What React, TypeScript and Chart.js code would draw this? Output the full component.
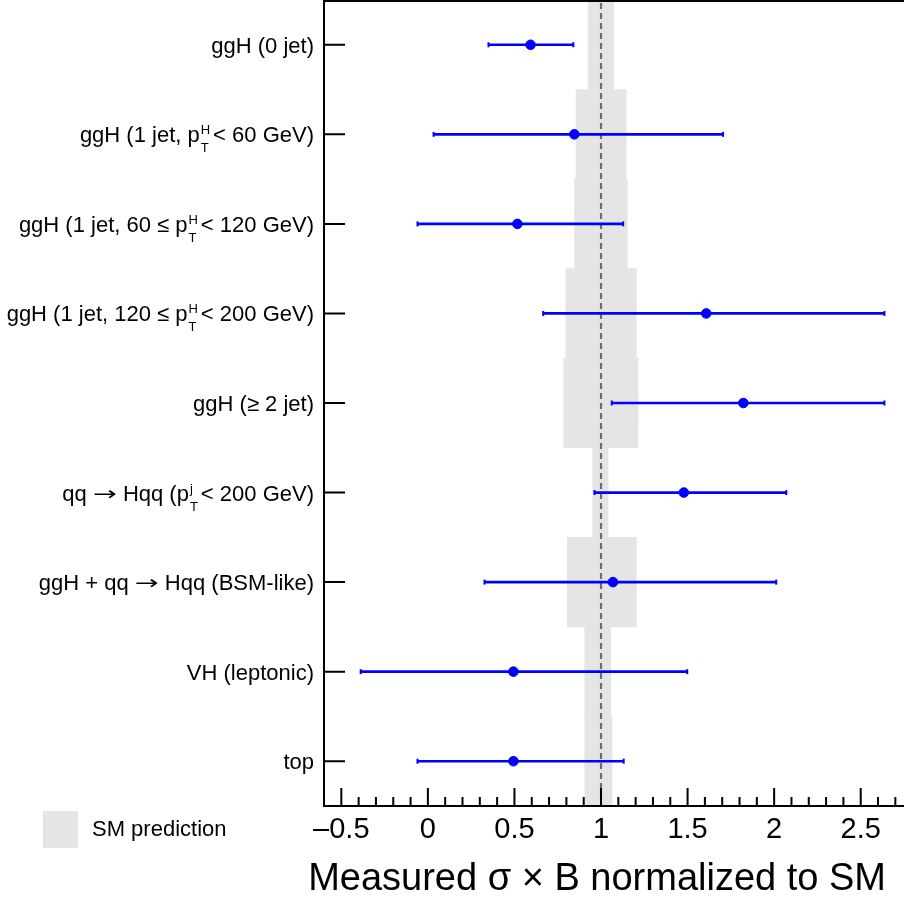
import React, { useEffect, useRef } from "react";
import { Chart, registerables } from "chart.js";

Chart.register(...registerables);

// ---------- data ----------
const categories = [
  "ggH (0 jet)",
  "ggH (1 jet, p_{T}^{H} < 60 GeV)",
  "ggH (1 jet, 60 ≤ p_{T}^{H} < 120 GeV)",
  "ggH (1 jet, 120 ≤ p_{T}^{H} < 200 GeV)",
  "ggH (≥ 2 jet)",
  "qq → Hqq (p_{T}^{j} < 200 GeV)",
  "ggH + qq → Hqq (BSM-like)",
  "VH (leptonic)",
  "top",
];
const measured = [0.593, 0.846, 0.517, 1.608, 1.822, 1.478, 1.069, 0.494, 0.494];
const errLow = [0.35, 0.033, -0.06, 0.666, 1.062, 0.962, 0.327, -0.388, -0.06];
const errHigh = [0.84, 1.705, 1.128, 2.637, 2.637, 2.07, 2.012, 1.498, 1.131];
const smLow = [0.926, 0.856, 0.847, 0.797, 0.785, 0.952, 0.806, 0.906, 0.906];
const smHigh = [1.073, 1.145, 1.152, 1.204, 1.214, 1.041, 1.204, 1.056, 1.064];
const xTickValues = [-0.5, 0, 0.5, 1, 1.5, 2, 2.5];
const xTitle = "Measured σ × B normalized to SM";
const legendLabel = "SM prediction";

const FONT = "'Liberation Sans', Arial, Helvetica, sans-serif";
const ARROW_FONT = "'DejaVu Sans', sans-serif";
const BLUE = "#0000ff";
const GREY = "#e5e5e5";

const plainLabels = categories.map((s) => s.replace(/_\{(.*?)\}\^\{(.*?)\}/g, "$2$1"));

function fmt(v: number): string {
  const r = Math.round(v * 10) / 10;
  return r < 0 ? "–" + String(Math.abs(r)) : String(r);
}

type Run = { kind: "text" | "arrow" | "stack"; text?: string; sub?: string; sup?: string };

function tokenize(s: string): Run[] {
  const runs: Run[] = [];
  const re = /_\{(.*?)\}\^\{(.*?)\}\s*/g;
  let last = 0;
  let m: RegExpExecArray | null;
  const pushText = (t: string) => {
    const parts = t.split("→");
    parts.forEach((p, i) => {
      if (i > 0) runs.push({ kind: "arrow", text: "→" });
      if (p) runs.push({ kind: "text", text: p });
    });
  };
  while ((m = re.exec(s))) {
    pushText(s.slice(last, m.index));
    runs.push({ kind: "stack", sub: m[1], sup: m[2] });
    last = re.lastIndex;
  }
  pushText(s.slice(last));
  return runs;
}

const ARROW_STRETCH = 1.5;

function drawRich(ctx: CanvasRenderingContext2D, s: string, xRight: number, yc: number) {
  const main = `22px ${FONT}`;
  const small = `13px ${FONT}`;
  const arrow = `19px ${ARROW_FONT}`;
  const base = yc + 8;
  ctx.fillStyle = "#000";
  ctx.textBaseline = "alphabetic";
  ctx.textAlign = "left";
  const runs = tokenize(s);
  const widths = runs.map((r) => {
    if (r.kind === "text") {
      ctx.font = main;
      return ctx.measureText(r.text!).width;
    }
    if (r.kind === "arrow") {
      ctx.font = arrow;
      return ctx.measureText(r.text!).width * ARROW_STRETCH;
    }
    ctx.font = small;
    return Math.max(ctx.measureText(r.sub!).width, ctx.measureText(r.sup!).width) + 4;
  });
  let x = xRight - widths.reduce((a, b) => a + b, 0);
  runs.forEach((r, i) => {
    if (r.kind === "text") {
      ctx.font = main;
      ctx.fillText(r.text!, x, base);
    } else if (r.kind === "arrow") {
      ctx.save();
      ctx.font = arrow;
      ctx.translate(x, base - 1);
      ctx.scale(ARROW_STRETCH, 1);
      ctx.fillText(r.text!, 0, 0);
      ctx.restore();
    } else {
      ctx.font = small;
      ctx.fillText(r.sup!, x + 1, base - 8);
      ctx.fillText(r.sub!, x + 1, base + 10);
    }
    x += widths[i];
  });
}

const decorPlugin = {
  id: "decor",
  afterDatasetDraw(chart: any, args: any) {
    if (args.index !== 0) return;
    const { ctx, chartArea } = chart;
    const xs = chart.scales.x;
    const px = xs.getPixelForValue(1);
    ctx.save();
    ctx.strokeStyle = "#6e6e6e";
    ctx.lineWidth = 2.2;
    ctx.setLineDash([6, 4]);
    ctx.beginPath();
    ctx.moveTo(px, chartArea.top + 3);
    ctx.lineTo(px, chartArea.bottom);
    ctx.stroke();
    ctx.restore();
  },
  afterDraw(chart: any) {
    const { ctx, chartArea } = chart;
    const xs = chart.scales.x;
    const ys = chart.scales.y;
    ctx.save();
    // frame
    ctx.strokeStyle = "#000";
    ctx.lineWidth = 2;
    ctx.beginPath();
    ctx.moveTo(chartArea.left, chartArea.top + 1);
    ctx.lineTo(chartArea.right, chartArea.top + 1);
    ctx.moveTo(chartArea.left, chartArea.top);
    ctx.lineTo(chartArea.left, chartArea.bottom);
    ctx.moveTo(chartArea.left - 1, chartArea.bottom);
    ctx.lineTo(chartArea.right, chartArea.bottom);
    ctx.stroke();
    // x ticks (inward)
    ctx.beginPath();
    for (let k = -6; k <= 27; k++) {
      const v = k / 10;
      const px = xs.getPixelForValue(v);
      const len = k % 5 === 0 ? 18 : 9;
      ctx.moveTo(px, chartArea.bottom);
      ctx.lineTo(px, chartArea.bottom - len);
    }
    // y ticks (inward)
    for (let i = 0; i < categories.length; i++) {
      const py = ys.getPixelForValue(i);
      ctx.moveTo(chartArea.left, py);
      ctx.lineTo(chartArea.left + 21, py);
    }
    ctx.stroke();
    // y labels with sub/superscripts
    for (let i = 0; i < categories.length; i++) {
      drawRich(ctx, categories[i], chartArea.left - 10, ys.getPixelForValue(i));
    }
    // legend
    ctx.fillStyle = GREY;
    ctx.fillRect(43, chartArea.bottom + 5, 35, 37);
    ctx.fillStyle = "#000";
    ctx.font = `22px ${FONT}`;
    ctx.textAlign = "left";
    ctx.textBaseline = "middle";
    ctx.fillText(legendLabel, 92, chartArea.bottom + 24);
    // axis title
    ctx.font = `38px ${FONT}`;
    ctx.textAlign = "right";
    ctx.textBaseline = "alphabetic";
    ctx.fillText(xTitle, chartArea.right - 18, chartArea.bottom + 84);
    ctx.restore();
  },
};

export default function App() {
  const ref = useRef<HTMLCanvasElement | null>(null);
  useEffect(() => {
    document.body.style.margin = "0";
    const canvas = ref.current;
    if (!canvas) return;
    const idx = categories.map((_, i) => i);
    const chart = new Chart(canvas, {
      type: "bar",
      data: {
        labels: plainLabels,
        datasets: [
          {
            type: "bar",
            label: legendLabel,
            data: idx.map((i) => [smLow[i], smHigh[i]]) as any,
            backgroundColor: GREY,
            borderWidth: 0,
            barPercentage: 1,
            categoryPercentage: 1,
            grouped: false,
            order: 4,
          },
          {
            type: "bar",
            label: "uncertainty",
            data: idx.map((i) => [errLow[i], errHigh[i]]) as any,
            backgroundColor: BLUE,
            borderWidth: 0,
            barThickness: 2,
            grouped: false,
            order: 3,
          } as any,
          {
            type: "scatter",
            label: "caps",
            data: idx.flatMap((i) => [
              { x: errLow[i], y: plainLabels[i] },
              { x: errHigh[i], y: plainLabels[i] },
            ]) as any,
            pointStyle: "line",
            rotation: 90,
            pointRadius: 2.5,
            borderColor: BLUE,
            borderWidth: 2,
            order: 2,
          } as any,
          {
            type: "scatter",
            label: "measured",
            data: idx.map((i) => ({ x: measured[i], y: plainLabels[i] })) as any,
            pointRadius: 4.8,
            backgroundColor: BLUE,
            borderColor: BLUE,
            borderWidth: 1,
            order: 1,
          } as any,
        ],
      },
      options: {
        animation: false,
        responsive: false,
        indexAxis: "y",
        layout: { padding: 0, autoPadding: false },
        plugins: { legend: { display: false }, tooltip: { enabled: false } },
        scales: {
          x: {
            type: "linear",
            min: -0.6,
            max: 2.75,
            grid: { display: false, drawTicks: false },
            border: { display: false },
            afterBuildTicks: (s: any) => {
              s.ticks = xTickValues.map((v) => ({ value: v }));
            },
            afterFit: (s: any) => {
              s.height = 93;
            },
            ticks: {
              autoSkip: false,
              maxRotation: 0,
              padding: 7,
              color: "#000",
              font: { family: FONT, size: 29 },
              callback: (v: any) => fmt(Number(v)),
            },
          },
          y: {
            type: "category",
            offset: true,
            grid: { display: false, drawTicks: false },
            border: { display: false },
            ticks: { display: false },
            afterFit: (s: any) => {
              s.width = 324;
            },
          },
        },
      } as any,
      plugins: [decorPlugin],
    });
    return () => chart.destroy();
  }, []);
  return (
    <div style={{ position: "absolute", left: 0, top: 0, width: 904, height: 899, background: "#fff" }}>
      <canvas ref={ref} width={904} height={899} style={{ display: "block" }} />
    </div>
  );
}
